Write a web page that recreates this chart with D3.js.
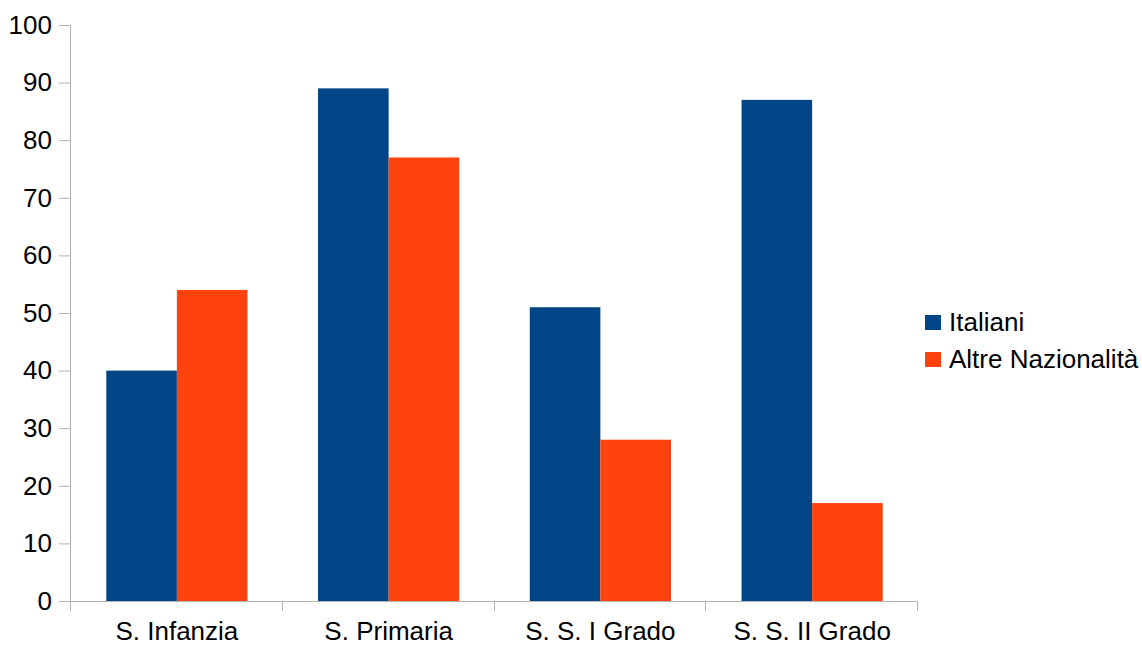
<!DOCTYPE html>
<html><head><meta charset="utf-8">
<script src="https://cdn.jsdelivr.net/npm/d3@7"></script>
<style>body{margin:0;background:#fff}svg{display:block}text{font-family:"Liberation Sans",Arial,sans-serif}</style>
</head><body>
<svg id="c" width="1142" height="646"></svg>
<script>
const categories = ["S. Infanzia", "S. Primaria", "S. S. I Grado", "S. S. II Grado"];
const seriesNames = ["Italiani", "Altre Nazionalità"];
const italiani = [40, 89, 51, 87];
const altre = [54, 77, 28, 17];
const yTicks = [0, 10, 20, 30, 40, 50, 60, 70, 80, 90, 100];
const colors = ["#004586", "#ff420e"];

const svg = d3.select("#c");
const L = 71, R = 918, T = 25, B = 601;
const x = d3.scaleBand().domain(categories).range([L, R]).paddingInner(0).paddingOuter(0);
const y = d3.scaleLinear().domain([0, 100]).range([B, T]);
const x1 = d3.scaleBand().domain(seriesNames).range([0, x.bandwidth()]).paddingInner(0).paddingOuter(0.5);
const axisColor = "#b3b3b3";
const fs = 26;

const data = [italiani, altre];
categories.forEach((c, i) => {
  seriesNames.forEach((s, j) => {
    svg.append("rect")
      .attr("x", x(c) + x1(s))
      .attr("y", y(data[j][i]))
      .attr("width", x1.bandwidth())
      .attr("height", y(0) - y(data[j][i]))
      .attr("fill", colors[j]);
  });
});

// Y axis
const ya = svg.append("g").attr("transform", `translate(${L},0)`)
  .call(d3.axisLeft(y).tickValues(yTicks).tickSize(12).tickPadding(7));
ya.select(".domain").attr("stroke", axisColor).attr("d", `M-0.5,${T}V${B+10}`);
ya.selectAll(".tick line").attr("stroke", axisColor);
ya.selectAll(".tick text").attr("font-size", fs).attr("fill", "#000");

// X axis
const xa = svg.append("g").attr("transform", `translate(0,${B})`)
  .call(d3.axisBottom(x).tickSize(0).tickPadding(21));
xa.select(".domain").attr("stroke", axisColor).attr("d", `M${L},0.5H${R}`);
xa.selectAll(".tick text").attr("font-size", fs).attr("fill", "#000");
const bounds = [...categories.map(c => x(c)), R];
svg.append("g").selectAll("line").data(bounds).join("line")
  .attr("x1", d => Math.round(d) - 0.5).attr("x2", d => Math.round(d) - 0.5)
  .attr("y1", B).attr("y2", B + 10).attr("stroke", axisColor);

// Legend
const lg = svg.append("g");
seriesNames.forEach((s, j) => {
  const cy = 322.5 + j * 37;
  lg.append("rect").attr("x", 925).attr("y", cy - 7.5).attr("width", 16).attr("height", 15).attr("fill", colors[j]);
  lg.append("text").attr("x", 949).attr("y", cy).attr("dy", "0.33em").attr("font-size", fs).text(s);
});
</script>
</body></html>
